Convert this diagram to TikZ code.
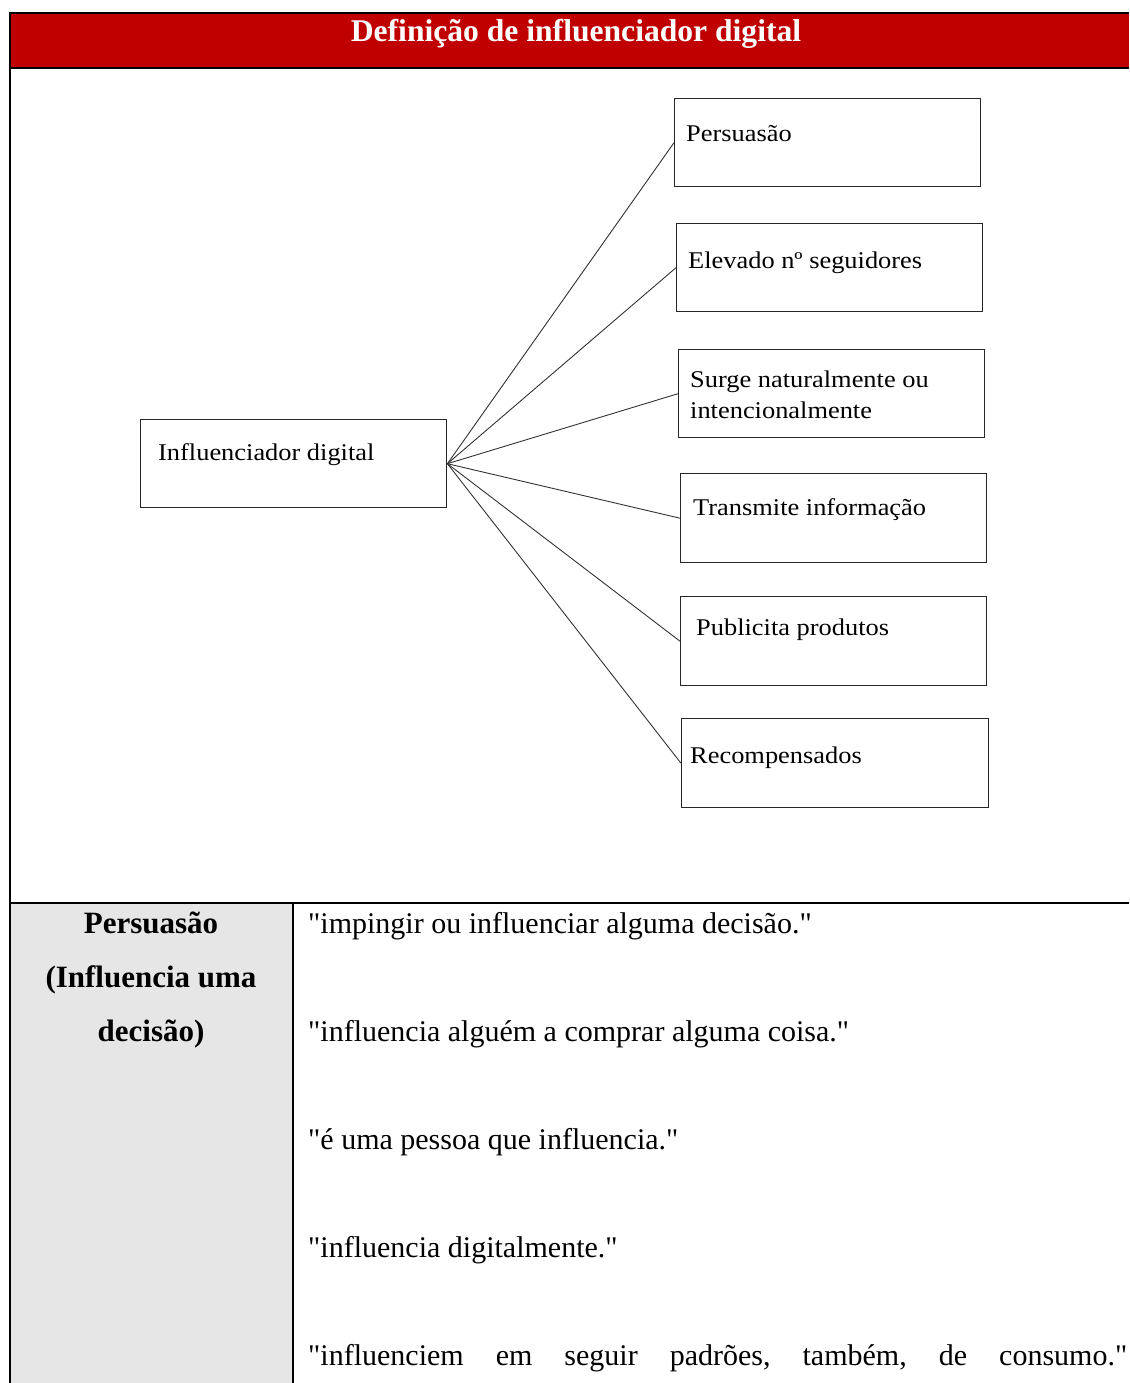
\documentclass[tikz,border=0pt]{standalone}
\usepackage{fontspec}
\setmainfont{Liberation Serif}[Ligatures=TeXOff]
\newfontfamily\boxfont{Liberation Serif}[FakeStretch=1.1]
\definecolor{hdrred}{HTML}{C00000}
\definecolor{cellgray}{HTML}{E7E6E6}
\begin{document}
\begin{tikzpicture}[x=1pt,y=-1pt,
  box/.style={draw=black!85, line width=1.4pt, minimum width=306pt, minimum height=88pt, inner sep=0pt, anchor=north west},
  lbl/.style={font=\boxfont\fontsize{24}{29}\selectfont, anchor=base west, inner sep=0pt},
  conn/.style={draw=black!80, line width=0.9pt},
  rule/.style={draw=black, line width=2pt},
  celltxt/.style={font=\fontsize{30}{36}\selectfont, anchor=base west, inner sep=0pt},
  headtxt/.style={font=\bfseries\fontsize{31}{36}\selectfont, anchor=base, inner sep=0pt}]
\useasboundingbox (0,0) rectangle (1129,1383);
% header
\fill[hdrred] (10,13) rectangle (1129,68);
\draw[rule] (10,13) -- (1129,13);
\draw[draw=black, line width=1.5pt] (10,68) -- (1129,68);
\node[font=\bfseries\fontsize{31.6}{36}\selectfont, text=white, anchor=base, inner sep=0pt] (title) at (576,42) {Definição de influenciador digital};
% table
\fill[cellgray] (11,904) rectangle (293,1383);
\draw[rule] (10,12) -- (10,1383);
\draw[rule] (10,903) -- (1129,903);
\draw[rule] (293,903) -- (293,1383);
% diagram boxes
\node[box] (infl) at (140,419) {};
\node[box] (b1) at (674,98) {};
\node[box] (b2) at (676,223) {};
\node[box] (b3) at (678,349) {};
\node[box, minimum height=89pt] (b4) at (680,473) {};
\node[box, minimum height=89pt] (b5) at (680,596) {};
\node[box, minimum height=89pt, minimum width=307pt] (b6) at (681,718) {};
\node[lbl] (tinfl) at (158,460) {Influenciador digital};
\node[lbl] (t1) at (686,142) {Persuasão};
\node[lbl] (t2) at (688,268) {Elevado nº seguidores};
\node[lbl] (t3a) at (690,387) {Surge naturalmente ou};
\node[lbl] (t3b) at (690,418) {intencionalmente};
\node[lbl] (t4) at (693,515) {Transmite informação};
\node[lbl] (t5) at (696,635) {Publicita produtos};
\node[lbl] (t6) at (690,763) {Recompensados};
% connectors
\foreach \b in {b1,b2,b3,b4,b5,b6} { \draw[conn] (infl.east) -- (\b.west); }
% table texts
\node[headtxt] (h1) at (151,933) {Persuasão};
\node[headtxt] (h2) at (151,987) {(Influencia uma};
\node[headtxt] (h3) at (151,1041) {decisão)};
\node[celltxt] (r1) at (308,933) {"impingir ou influenciar alguma decisão."};
\node[celltxt] (r2) at (308,1041) {"influencia alguém a comprar alguma coisa."};
\node[celltxt] (r3) at (308,1149) {"é uma pessoa que influencia."};
\node[celltxt] (r4) at (308,1257) {"influencia digitalmente."};
\node[celltxt] (r5) at (308,1365) {\hbox to 819pt{"influenciem\hfill em\hfill seguir\hfill padrões,\hfill também,\hfill de\hfill consumo."}};
\end{tikzpicture}
\end{document}
